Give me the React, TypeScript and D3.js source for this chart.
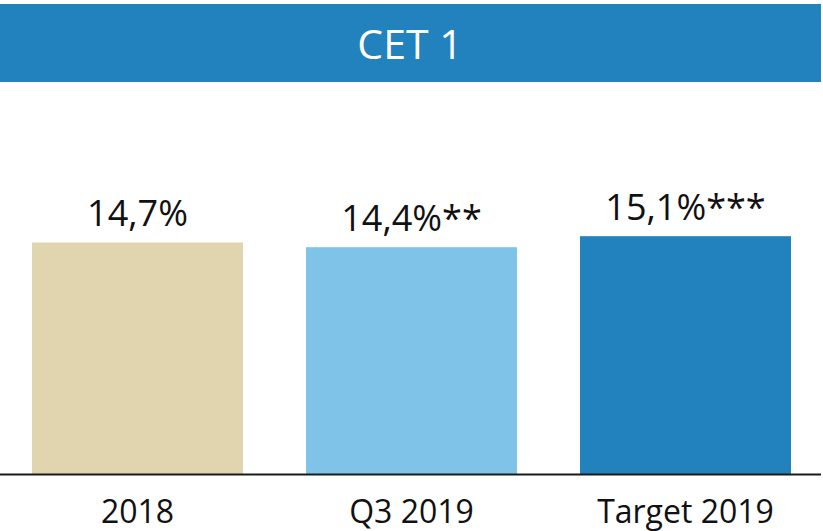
import React from "react";
import * as d3 from "d3";

const categories = ["2018", "Q3 2019", "Target 2019"];
const values = [14.7, 14.4, 15.1];
const valueLabels = ["14,7%", "14,4%**", "15,1%***"];
const barColors = ["#E0D5AF", "#7FC4E8", "#2182BD"];
const title = "CET 1";

const W = 823;
const H = 531;
const FONT = "'Open Sans', 'Noto Sans', sans-serif";

export default function App() {
  const x = d3
    .scaleBand<string>()
    .domain(categories)
    .range([0.5, 822.5])
    .paddingInner(0.23)
    .paddingOuter(0.115);
  const baseY = 474;
  const y = d3.scaleLinear().domain([0, 20]).range([baseY, baseY - 315]);

  return (
    <svg
      width={W}
      height={H}
      style={{ position: "absolute", left: 0, top: 0, background: "#fff" }}
      fontFamily={FONT}
    >
      <rect x={0} y={4} width={821} height={78} fill="#2182BD" />
      <text x={410} y={59} textAnchor="middle" fill="#fff" fontSize={41}>
        {title}
      </text>
      {categories.map((c, i) => {
        const bx = x(c)!;
        const bw = x.bandwidth();
        const top = y(values[i]);
        return (
          <g key={c}>
            <rect x={bx} y={top} width={bw} height={baseY - top} fill={barColors[i]} />
            <text
              x={bx + bw / 2}
              y={top - 16}
              textAnchor="middle"
              fontSize={36}
              fill="#111"
            >
              {valueLabels[i]}
            </text>
            <text
              x={bx + bw / 2}
              y={523}
              textAnchor="middle"
              fontSize={32}
              fill="#111"
            >
              {c}
            </text>
          </g>
        );
      })}
      <line x1={0} x2={821} y1={baseY + 0.5} y2={baseY + 0.5} stroke="#1a1a1a" strokeWidth={2} />
    </svg>
  );
}
